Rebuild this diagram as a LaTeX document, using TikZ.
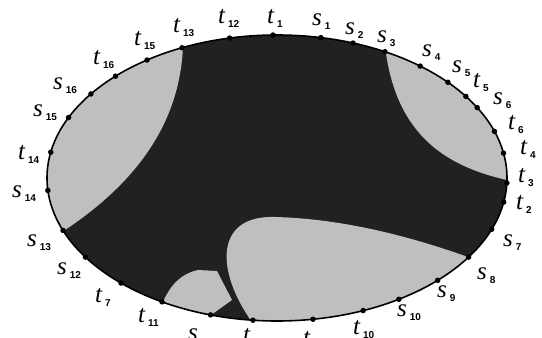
\documentclass[tikz,border=0pt]{standalone}
\usepackage{fontspec}
\setmainfont{Liberation Serif}
\newfontfamily\subsf{Liberation Sans}
\usetikzlibrary{calc}
\newcommand{\lbl}[2]{{\fontsize{25}{25}\selectfont\itshape #1}\hspace{3pt}\raisebox{-4pt}{\subsf\bfseries\fontsize{10}{10}\selectfont #2}}
\newcommand{\lone}[1]{{\fontsize{25}{25}\selectfont\itshape #1}}
\definecolor{darkfill}{gray}{0.13}
\definecolor{lightfill}{gray}{0.75}
\begin{document}
\begin{tikzpicture}[x=1pt,y=1pt,
  dot/.style={circle,fill=black,inner sep=0pt,minimum size=5.5pt},
  lab/.style={anchor=base west,inner sep=0pt},
  region/.style={fill=lightfill}]
\useasboundingbox (0,0) rectangle (542,338);
\coordinate (c) at (277,160);
\fill[darkfill] (c) ellipse [x radius=230pt, y radius=143pt];
\begin{scope}
\clip (c) ellipse [x radius=230pt, y radius=143pt];
% left lens
\fill[region] (183,292) .. controls (180,218) and (140,158) .. (65,108)
  -- (30,90) -- (30,338) -- (185,338) -- cycle;
% right lens
\fill[region] (385,292) .. controls (395,208) and (440,173) .. (507,158)
  -- (545,150) -- (545,338) -- (380,338) -- cycle;
% big bottom-right region
\fill[region] (252,16) .. controls (215,68) and (215,123) .. (275,121)
  .. controls (350,119) and (420,98) .. (468,81)
  -- (530,55) -- (530,0) -- (252,0) -- cycle;
% small bottom region
\fill[region] (163,36) .. controls (170,52) and (180,64) .. (198,68)
  -- (217,67) -- (232,38) -- (211,23) -- (211,0) -- (150,0) -- (150,36) -- cycle;
\end{scope}
\draw[line width=1.6pt] (c) ellipse [x radius=230pt, y radius=143pt];
\foreach \n/\a in {t1/91,s1/79,s2/70.7,s3/62,s4/51.5,s5/42,t5/34.8,s6/29.5,t6/19,t4/10,t3/-2,t2/-9.7,s7/-21,s8/-33.6,s9/-45.7,s10/-58,t10/-68,tb/-81,ta/-96,sa/-106.8,t11/-120,t7/-132.7,s12/-146.4,s13/-158.5,s14/-175,t14/169.6,s15/155,s16/144,t16/134.6,t15/124.4,t13/114.4,t12/101.9}
  \node[dot] (d\n) at ($(c)+(\a:230 and 143)$) {};
% labels
\node[lab] (lt13) at (173,305) {\lbl{t}{13}};
\node[lab] (lt12) at (218,314) {\lbl{t}{12}};
\node[lab] (lt1) at (267,314) {\lbl{t}{1}};
\node[lab] (ls1) at (312,312) {\lbl{s}{1}};
\node[lab] (ls2) at (345,303) {\lbl{s}{2}};
\node[lab] (ls3) at (377,295) {\lbl{s}{3}};
\node[lab] (ls4) at (422,281) {\lbl{s}{4}};
\node[lab] (ls5) at (452,265) {\lbl{s}{5}};
\node[lab] (lt5) at (473,250) {\lbl{t}{5}};
\node[lab] (ls6) at (493,233) {\lbl{s}{6}};
\node[lab] (lt6) at (508,208) {\lbl{t}{6}};
\node[lab] (lt4) at (520,183) {\lbl{t}{4}};
\node[lab] (lt3) at (518,155) {\lbl{t}{3}};
\node[lab] (lt2) at (516,128) {\lbl{t}{2}};
\node[lab] (ls7) at (503,91) {\lbl{s}{7}};
\node[lab] (ls8) at (477,58) {\lbl{s}{8}};
\node[lab] (ls9) at (437,40) {\lbl{s}{9}};
\node[lab] (ls10) at (397,21) {\lbl{s}{10}};
\node[lab] (lt10) at (353,3) {\lbl{t}{10}};
\node[lab] (ltb) at (303,-8) {\lone{t}};
\node[lab] (lta) at (243,-5) {\lone{t}};
\node[lab] (lsa) at (188,-2) {\lone{s}};
\node[lab] (lt11) at (138,15) {\lbl{t}{11}};
\node[lab] (lt7) at (95,35) {\lbl{t}{7}};
\node[lab] (ls12) at (57,63) {\lbl{s}{12}};
\node[lab] (ls13) at (27,91) {\lbl{s}{13}};
\node[lab] (ls14) at (12,140) {\lbl{s}{14}};
\node[lab] (lt14) at (18,178) {\lbl{t}{14}};
\node[lab] (ls15) at (33,221) {\lbl{s}{15}};
\node[lab] (ls16) at (53,248) {\lbl{s}{16}};
\node[lab] (lt16) at (93,273) {\lbl{t}{16}};
\node[lab] (lt15) at (134,292) {\lbl{t}{15}};
\end{tikzpicture}
\end{document}
